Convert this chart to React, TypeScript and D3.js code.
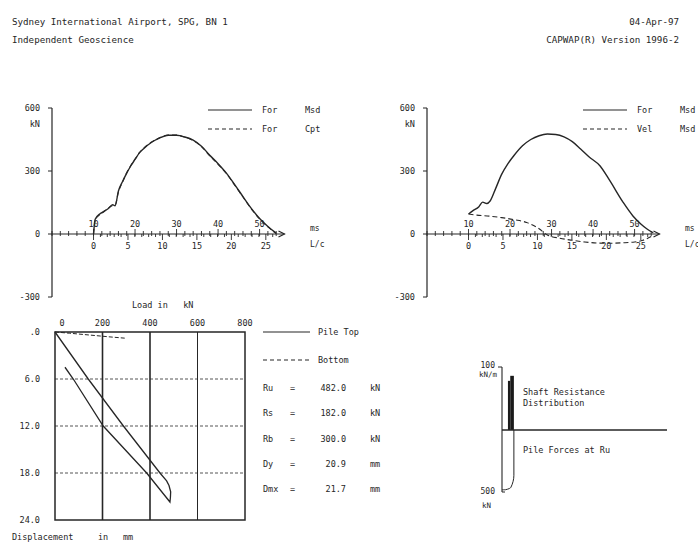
import React from 'react'
import * as d3 from 'd3'

// header
const headerLeft = ['Sydney International Airport, SPG, BN 1', 'Independent Geoscience']
const headerRight = ['04-Apr-97', 'CAPWAP(R) Version 1996-2']

// top plots: time in ms, force in kN
const forceTicks = [600, 300, 0, -300]
const msLabels = [10, 20, 30, 40, 50]
const lcLabels = [0, 5, 10, 15, 20, 25]

const frcMsdMs = [10, 10.4, 11.5, 12.5, 13.5, 14.6, 15.2, 16, 17, 18, 19, 20, 21, 22, 24, 26, 28, 30, 32, 34, 36, 38, 40, 42, 44, 46, 48, 50, 52, 54]
const frcMsdKn = [0, 70, 95, 108, 120, 140, 134, 205, 250, 290, 325, 355, 385, 405, 437, 458, 470, 470, 462, 447, 418, 375, 335, 290, 235, 178, 122, 74, 36, 4]
const frcCptKn = [0, 66, 92, 106, 122, 136, 138, 200, 248, 292, 327, 357, 386, 407, 438, 459, 471, 471, 461, 445, 416, 372, 332, 288, 233, 176, 120, 72, 34, 2]

const frc2Ms = [10, 11, 12.5, 13.4, 14.4, 15.2, 16.5, 18, 19.5, 21, 23, 25, 27, 29, 31, 33, 35, 37, 39, 41.7, 44, 47.2, 49.6, 51.5, 53, 54.5]
const frc2Kn = [95, 110, 130, 152, 145, 157, 215, 285, 335, 375, 420, 450, 468, 476, 474, 463, 440, 405, 368, 324, 255, 152, 86, 48, 24, 6]
const velMs = [10, 12, 15, 18, 21, 24, 27, 29, 32, 35, 38, 41, 44, 47, 50, 52, 54]
const velKn = [95, 90, 85, 78, 68, 55, 25, -5, -20, -30, -38, -43, -44, -42, -38, -30, -12]

// bottom left: load (kN) vs displacement (mm)
const loadTicks = [0, 200, 400, 600, 800]
const dispTicks = [0, 6, 12, 18, 24]
const dispLabels = ['.0', '6.0', '12.0', '18.0', '24.0']
const topLoad = [0, 140, 288, 442, 470, 480, 487, 486, 484, 386, 203, 77, 42]
const topDisp = [0, 6, 12, 18, 19, 19.6, 20.4, 21.1, 21.7, 18, 12, 6, 4.5]
const botLoad = [0, 60, 150, 240, 300]
const botDisp = [0, 0.15, 0.4, 0.65, 0.8]
const results = [
  ['Ru', '482.0', 'kN'],
  ['Rs', '182.0', 'kN'],
  ['Rb', '300.0', 'kN'],
  ['Dy', '20.9', 'mm'],
  ['Dmx', '21.7', 'mm'],
]

// bottom right: shaft resistance (kN/m) and pile forces (kN) along pile
const srStart = [1.8, 2.5]
const srEnd = [2.5, 3.6]
const srValue = [78, 86]
const pfDepth = [0, 1, 2.7, 3.6, 3.6]
const pfForce = [482, 482, 462, 365, 0]

const ink = '#262626'
const font = 'DejaVu Sans Mono, monospace'

type P = [number, number]

function TimePlot(props: {
  x0: number
  labelX: number
  ms: number[]
  solid: number[]
  dashMs: number[]
  dashed: number[]
  legend: [string, string][]
}) {
  const { x0, labelX, ms, solid, dashMs, dashed, legend } = props
  const x = d3.scaleLinear().domain([0, 56]).range([x0, x0 + 232.5])
  const y = d3.scaleLinear().domain([-300, 600]).range([297, 108])
  const lcToMs = (lc: number) => 10 + lc * 1.66
  const line = d3.line<P>().x(d => x(d[0])).y(d => y(d[1])).curve(d3.curveMonotoneX)
  const solidPts: P[] = ms.map((m, i) => [m, solid[i]])
  const dashPts: P[] = dashMs.map((m, i) => [m, dashed[i]])
  const y0 = y(0)
  const msMinor = d3.range(0, 55, 2)
  const lcMinor = d3.range(0, 27, 1)
  const xEnd = x(56)
  return (
    <g>
      {/* y axis */}
      <line x1={x0} x2={x0} y1={y(600)} y2={y(-300)} stroke={ink} strokeWidth={1.2} />
      {forceTicks.map(t => (
        <g key={t}>
          <line x1={x0 - 4} x2={x0} y1={y(t)} y2={y(t)} stroke={ink} strokeWidth={1} />
          <text x={labelX} y={y(t) + 3} textAnchor="end" fontSize={8.5}>{t}</text>
        </g>
      ))}
      <text x={labelX} y={y(600) + 19} textAnchor="end" fontSize={8.5}>kN</text>
      {/* x axis */}
      <line x1={x0} x2={xEnd} y1={y0} y2={y0} stroke={ink} strokeWidth={1.2} />
      <path d={`M${xEnd - 6},${y0 - 3}L${xEnd},${y0}L${xEnd - 6},${y0 + 3}`} fill="none" stroke={ink} strokeWidth={1.2} />
      {msMinor.map(t => (
        <line key={'m' + t} x1={x(t)} x2={x(t)} y1={y0 - (t % 10 === 0 && t > 0 ? 5 : 3)} y2={y0 + 2} stroke={ink} strokeWidth={0.9} />
      ))}
      {lcMinor.map(t => (
        <line key={'l' + t} x1={x(lcToMs(t))} x2={x(lcToMs(t))} y1={y0} y2={y0 + (t % 5 === 0 ? 6 : 3)} stroke={ink} strokeWidth={0.9} />
      ))}
      {msLabels.map(t => (
        <text key={'ml' + t} x={x(t)} y={y0 - 7} textAnchor="middle" fontSize={8.5}>{t}</text>
      ))}
      {lcLabels.map(t => (
        <text key={'ll' + t} x={x(lcToMs(t))} y={y0 + 15} textAnchor="middle" fontSize={8.5}>{t}</text>
      ))}
      <text x={x0 + 258} y={y0 - 3} fontSize={8}>ms</text>
      <text x={x0 + 258} y={y0 + 13} fontSize={8}>L/c</text>
      {/* curves */}
      <path d={line(dashPts) || ''} fill="none" stroke={ink} strokeWidth={1.1} strokeDasharray="5,3" />
      <path d={line(solidPts) || ''} fill="none" stroke={ink} strokeWidth={1.4} />
      {/* legend */}
      {legend.map((l, i) => (
        <g key={i}>
          <line x1={x0 + 156} x2={x0 + 200} y1={110 + i * 19} y2={110 + i * 19} stroke={ink} strokeWidth={1.2} strokeDasharray={i === 0 ? undefined : '4,3'} />
          <text x={x0 + 210} y={113 + i * 19} fontSize={8.5}>{l[0]}</text>
          <text x={x0 + 253} y={113 + i * 19} fontSize={8.5}>{l[1]}</text>
        </g>
      ))}
    </g>
  )
}

function LoadPlot() {
  const x = d3.scaleLinear().domain([0, 800]).range([55, 245])
  const y = d3.scaleLinear().domain([0, 24]).range([332, 520])
  const line = d3.line<P>().x(d => x(d[0])).y(d => y(d[1]))
  const topPts: P[] = topLoad.map((l, i) => [l, topDisp[i]])
  const botPts: P[] = botLoad.map((l, i) => [l, botDisp[i]])
  return (
    <g>
      <text x={132} y={308} fontSize={8.5} xmlSpace="preserve">Load in   kN</text>
      {loadTicks.map((t, i) => (
        <text key={t} x={x(t)} dx={i === 0 ? 7 : 0} y={326} textAnchor="middle" fontSize={8.5}>{t}</text>
      ))}
      {dispTicks.map((t, i) => (
        <text key={t} x={40} y={y(t) + 3} textAnchor="end" fontSize={8.5}>{dispLabels[i]}</text>
      ))}
      {dispTicks.slice(1, 4).map(t => (
        <line key={t} x1={x(0)} x2={x(800)} y1={y(t)} y2={y(t)} stroke="#555" strokeWidth={1} strokeDasharray="3,2" />
      ))}
      {loadTicks.slice(1, 4).map(t => (
        <line key={t} x1={x(t)} x2={x(t)} y1={y(0)} y2={y(24)} stroke={ink} strokeWidth={t === 600 ? 1 : 1.6} />
      ))}
      <rect x={x(0)} y={y(0)} width={x(800) - x(0)} height={y(24) - y(0)} fill="none" stroke={ink} strokeWidth={1.5} />
      <path d={line(topPts) || ''} fill="none" stroke={ink} strokeWidth={1.3} />
      <path d={line(botPts) || ''} fill="none" stroke={ink} strokeWidth={1} strokeDasharray="4,2" />
      <text x={12} y={540} fontSize={8.5}>Displacement</text>
      <text x={98} y={540} fontSize={8.5}>in</text>
      <text x={123} y={540} fontSize={8.5}>mm</text>
      {/* legend */}
      <line x1={263} x2={310} y1={332} y2={332} stroke={ink} strokeWidth={1.2} />
      <text x={318} y={335} fontSize={8.5}>Pile Top</text>
      <line x1={263} x2={310} y1={360} y2={360} stroke={ink} strokeWidth={1.2} strokeDasharray="4,3" />
      <text x={318} y={363} fontSize={8.5}>Bottom</text>
      {results.map((r, i) => (
        <g key={r[0]}>
          <text x={263} y={391 + i * 25.3} fontSize={8.5}>{r[0]}</text>
          <text x={290} y={391 + i * 25.3} fontSize={8.5}>=</text>
          <text x={346} y={391 + i * 25.3} fontSize={8.5} textAnchor="end">{r[1]}</text>
          <text x={370} y={391 + i * 25.3} fontSize={8.5}>{r[2]}</text>
        </g>
      ))}
    </g>
  )
}

function ShaftPlot() {
  const x = d3.scaleLinear().domain([0, 50]).range([502, 667])
  const ySr = d3.scaleLinear().domain([0, 100]).range([430, 367])
  const yPf = d3.scaleLinear().domain([0, 500]).range([430, 492])
  const pfPts: P[] = pfDepth.map((d, i) => [d, pfForce[i]])
  const line = d3.line<P>().x(d => x(d[0])).y(d => yPf(d[1])).curve(d3.curveMonotoneY)
  return (
    <g>
      <line x1={x(0)} x2={x(0)} y1={ySr(100)} y2={yPf(500)} stroke={ink} strokeWidth={1.1} />
      <line x1={x(0) - 4} x2={x(0)} y1={ySr(100)} y2={ySr(100)} stroke={ink} strokeWidth={1} />
      <line x1={x(0)} x2={x(0) + 3} y1={yPf(500)} y2={yPf(500)} stroke={ink} strokeWidth={1} />
      <text x={495} y={368} textAnchor="end" fontSize={8}>100</text>
      <text x={497} y={377} textAnchor="end" fontSize={7.5}>kN/m</text>
      <text x={495} y={494} textAnchor="end" fontSize={8}>500</text>
      <text x={491} y={508} textAnchor="end" fontSize={7.5}>kN</text>
      {srValue.map((v, i) => (
        <rect key={i} x={x(srStart[i])} y={ySr(v)} width={x(srEnd[i]) - x(srStart[i])} height={ySr(0) - ySr(v)} fill="#1a1a1a" />
      ))}
      <line x1={x(0)} x2={x(50)} y1={ySr(0)} y2={ySr(0)} stroke={ink} strokeWidth={1.3} />
      <path d={line(pfPts) || ''} fill="none" stroke={ink} strokeWidth={1} />
      <text x={523} y={395} fontSize={8.5}>Shaft Resistance</text>
      <text x={523} y={406} fontSize={8.5}>Distribution</text>
      <text x={523} y={453} fontSize={8.5}>Pile Forces at Ru</text>
    </g>
  )
}

export default function App() {
  return (
    <svg
      width={698}
      height={548}
      style={{ position: 'absolute', left: 0, top: 0, background: '#fff' }}
      fontFamily={font}
      fill={ink}
    >
      <rect width={698} height={548} fill="#fff" />
      {headerLeft.map((t, i) => (
        <text key={t} x={12} y={25 + i * 18} fontSize={9.2}>{t}</text>
      ))}
      {headerRight.map((t, i) => (
        <text key={t} x={679} y={25 + i * 18} fontSize={9.2} textAnchor="end">{t}</text>
      ))}
      <TimePlot
        x0={52}
        labelX={40}
        ms={frcMsdMs}
        solid={frcMsdKn}
        dashMs={frcMsdMs}
        dashed={frcCptKn}
        legend={[['For', 'Msd'], ['For', 'Cpt']]}
      />
      <TimePlot
        x0={427}
        labelX={415}
        ms={frc2Ms}
        solid={frc2Kn}
        dashMs={velMs}
        dashed={velKn}
        legend={[['For', 'Msd'], ['Vel', 'Msd']]}
      />
      <LoadPlot />
      <ShaftPlot />
    </svg>
  )
}
